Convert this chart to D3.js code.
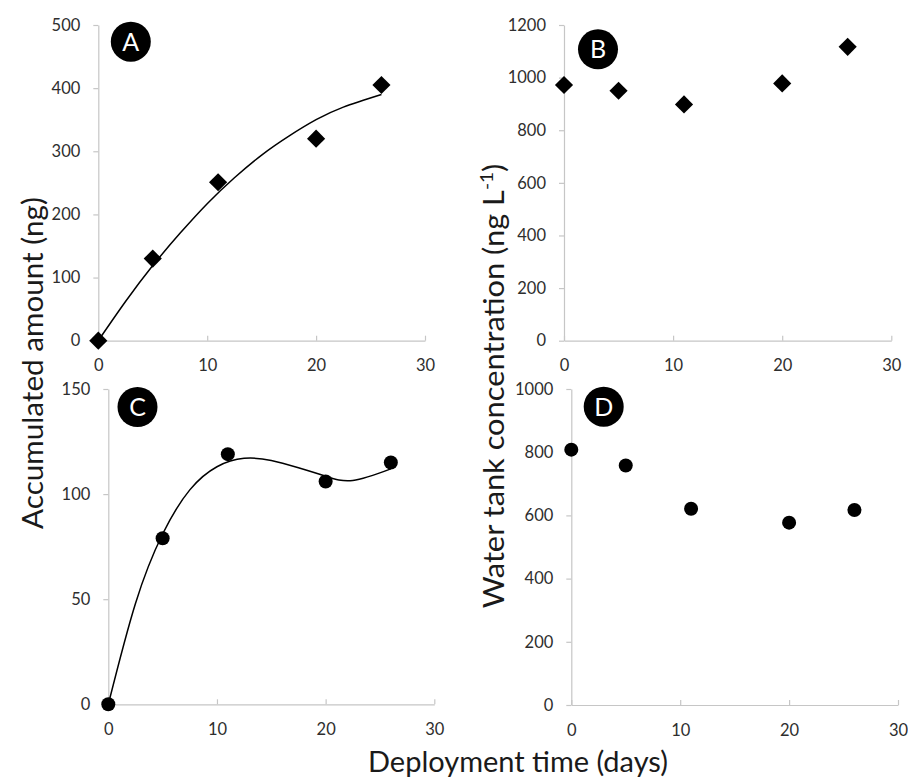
<!DOCTYPE html>
<html><head><meta charset="utf-8">
<script src="https://cdn.jsdelivr.net/npm/d3@7"></script>
<style>body{margin:0;background:#fff} svg{display:block}</style>
</head><body><svg id="c" width="908" height="779"></svg>
<script>
// ---- data ----
const days = [0, 5, 11, 20, 26];
const accumA = [0, 130, 251, 320, 405];
const concB = [972, 950, 898, 978, 1117];
const accumC = [0, 79, 119, 106, 115];
const concD = [808, 758, 621, 577, 617];
// trend lines
const trendDaysA = [0, 2.5, 5, 7.5, 10, 12.5, 15, 17.5, 20, 22.5, 26];
const trendA = [0, 62, 119, 170, 217, 258, 294, 324, 350, 370, 390];
const trendDaysC = [0, 2.5, 5, 7.5, 10, 12.5, 15, 17.5, 20, 22.5, 26];
const trendC = [0, 48, 81, 102, 113, 117, 116, 112.5, 108.5, 106.5, 112];
const xTicks = [0, 10, 20, 30];
const yTicksA = [0, 100, 200, 300, 400, 500];
const yTicksB = [0, 200, 400, 600, 800, 1000, 1200];
const yTicksC = [0, 50, 100, 150];
const yTicksD = [0, 200, 400, 600, 800, 1000];
const panelLetters = ["A", "B", "C", "D"];
const xTitle = "Deployment time (days)";
const yTitleLeft = "Accumulated amount (ng)";
const yTitleRight = "Water tank concentration (ng L";
const yTitleRightSup = "-1";

// ---- layout ----
const FONT = "Lato, 'Open Sans', sans-serif";
const AXIS = "#c6c6c6";
const TXT = "#2e2e2e";
const panels = [
  {letter: panelLetters[0], box: [98.3, 425, 25, 340.7], yTicks: yTicksA, vals: accumA, marker: "diamond", tx: trendDaysA, ty: trendA, badge: [32.5, 16.7]},
  {letter: panelLetters[1], box: [564, 891.3, 25, 340.7], yTicks: yTicksB, vals: concB, marker: "diamond", badge: [34, 24.3]},
  {letter: panelLetters[2], box: [108.3, 434.3, 389, 704.3], yTicks: yTicksC, vals: accumC, marker: "circle", tx: trendDaysC, ty: trendC, badge: [29.2, 18]},
  {letter: panelLetters[3], box: [571.3, 898, 389, 705], yTicks: yTicksD, vals: concD, marker: "circle", badge: [32.4, 17.7]}
];

const svg = d3.select("#c");
svg.append("rect").attr("width", 908).attr("height", 779).attr("fill", "#fff");
const fmt = d3.format("d");

panels.forEach(p => {
  const [l, r, t, b] = p.box;
  const x = d3.scaleLinear().domain([0, 30]).range([l, r]);
  const y = d3.scaleLinear().domain([0, d3.max(p.yTicks)]).range([b, t]);
  const g = svg.append("g");

  const xa = g.append("g").attr("transform", `translate(0,${b})`)
    .call(d3.axisBottom(x).tickValues(xTicks).tickFormat(fmt).tickSizeInner(-5).tickSizeOuter(0).tickPadding(19));
  const ya = g.append("g").attr("transform", `translate(${l},0)`)
    .call(d3.axisLeft(y).tickValues(p.yTicks).tickFormat(fmt).tickSizeInner(5).tickSizeOuter(0).tickPadding(13));
  [xa, ya].forEach(a => {
    a.select(".domain").attr("stroke", AXIS).attr("stroke-width", 1.2);
    a.selectAll(".tick line").attr("stroke", AXIS).attr("stroke-width", 1.2);
    a.selectAll(".tick text").attr("fill", TXT).style("font-family", FONT).style("font-size", "16.5px");
  });

  if (p.tx) {
    const pts = p.tx.map((d, i) => [d, p.ty[i]]);
    g.append("path").datum(pts)
      .attr("fill", "none").attr("stroke", "#000").attr("stroke-width", 1.5)
      .attr("d", d3.line().x(d => x(d[0])).y(d => y(d[1])).curve(d3.curveNatural));
  }

  const pts = days.map((d, i) => [d, p.vals[i]]);
  if (p.marker === "circle") {
    g.selectAll("circle.pt").data(pts).join("circle").attr("class", "pt")
      .attr("cx", d => x(d[0])).attr("cy", d => y(d[1])).attr("r", 7).attr("fill", "#000");
  } else {
    const sym = d3.symbol(d3.symbolSquare, 165);
    g.selectAll("path.pt").data(pts).join("path").attr("class", "pt")
      .attr("d", sym).attr("fill", "#000")
      .attr("transform", d => `translate(${x(d[0])},${y(d[1])}) rotate(45)`);
  }

  const bx = l + p.badge[0], by = t + p.badge[1];
  g.append("circle").attr("cx", bx).attr("cy", by).attr("r", 20).attr("fill", "#000");
  g.append("text").attr("x", bx).attr("y", by + 9).attr("text-anchor", "middle")
    .attr("fill", "#fff").style("font-family", FONT).style("font-size", "25px").text(p.letter);
});

// ---- axis titles ----
function title(txt, cx, cy, len, rot, sup) {
  const t = svg.append("text").attr("text-anchor", "middle").attr("fill", "#1a1a1a")
    .style("font-family", FONT).style("font-size", "29px");
  t.append("tspan").text(txt);
  if (sup) {
    t.append("tspan").attr("dy", -11).style("font-size", "18px").text(sup);
    t.append("tspan").attr("dy", 11).text(")");
  }
  const w = t.node().getComputedTextLength();
  const k = len / w;
  t.attr("transform", `translate(${cx},${cy}) ${rot ? "rotate(-90)" : ""} scale(${k},1)`);
}
title(xTitle, 518, 772, 300, false);
title(yTitleLeft, 43, 363, 332, true);
title(yTitleRight, 504, 386, 445, true, yTitleRightSup);
</script></body></html>
